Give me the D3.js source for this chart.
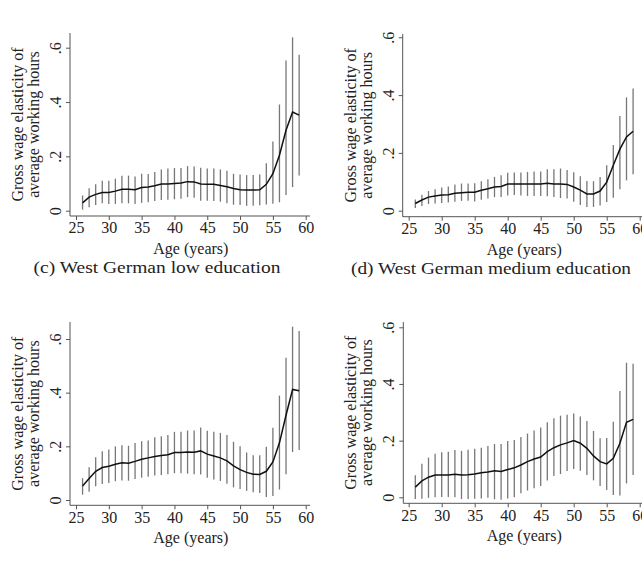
<!DOCTYPE html>
<html>
<head>
<meta charset="utf-8">
<script src="https://cdn.jsdelivr.net/npm/d3@7"></script>
<style>
body { margin: 0; background: #fff; }
svg { display: block; }
text { font-family: "Liberation Serif", "Times New Roman", serif; fill: #222; }
</style>
</head>
<body>
<svg width="642" height="568"></svg>
<script>
// ages on the x axis
var ages = [26,27,28,29,30,31,32,33,34,35,36,37,38,39,40,41,42,43,44,45,46,47,48,49,50,51,52,53,54,55,56,57,58,59];

// (c) West German low education
var lowEst = [.029,.050,.060,.067,.067,.072,.079,.079,.077,.085,.087,.092,.098,.098,.100,.102,.107,.106,.098,.097,.097,.093,.088,.082,.077,.076,.076,.077,.097,.136,.204,.296,.363,.352];
var lowHi  = [.056,.083,.097,.110,.110,.118,.129,.129,.126,.136,.135,.142,.152,.155,.157,.157,.164,.163,.158,.155,.155,.152,.147,.136,.133,.131,.131,.133,.175,.255,.391,.553,.638,.574];
var lowLo  = [.004,.013,.021,.027,.025,.025,.027,.027,.025,.029,.031,.036,.039,.040,.042,.044,.050,.048,.037,.037,.036,.033,.027,.022,.021,.018,.018,.020,.023,.026,.031,.058,.087,.130];

// (d) West German medium education
var medEst = [.025,.037,.047,.051,.054,.055,.060,.062,.064,.064,.071,.076,.082,.084,.092,.092,.092,.092,.092,.092,.095,.092,.092,.091,.082,.071,.058,.058,.068,.099,.157,.213,.255,.275];
var medHi  = [.039,.055,.068,.074,.080,.084,.091,.094,.094,.095,.102,.109,.117,.123,.131,.132,.132,.134,.136,.136,.143,.143,.146,.141,.133,.119,.103,.102,.117,.157,.227,.328,.392,.423];
var medLo  = [.009,.016,.023,.025,.027,.028,.031,.034,.034,.032,.038,.042,.047,.047,.053,.054,.053,.051,.051,.051,.050,.047,.044,.042,.031,.020,.013,.013,.018,.030,.045,.074,.105,.126];

// bottom left panel
var p3Est = [.052,.080,.107,.121,.126,.133,.139,.137,.144,.152,.157,.162,.166,.169,.177,.177,.179,.178,.183,.171,.164,.157,.146,.127,.113,.103,.096,.095,.107,.142,.213,.316,.412,.407];
var p3Hi  = [.081,.122,.159,.182,.188,.200,.204,.202,.212,.219,.222,.234,.238,.242,.254,.254,.259,.259,.270,.258,.254,.250,.242,.217,.200,.177,.167,.167,.198,.269,.389,.530,.646,.630];
var p3Lo  = [.020,.031,.051,.060,.063,.070,.073,.072,.078,.083,.087,.091,.093,.096,.100,.100,.098,.096,.095,.083,.076,.071,.061,.047,.041,.034,.029,.026,.011,.015,.039,.096,.179,.186];

// bottom right panel
var p4Est = [.036,.058,.071,.079,.079,.079,.081,.079,.080,.082,.087,.089,.094,.091,.098,.104,.114,.126,.135,.142,.161,.175,.185,.192,.200,.191,.173,.146,.126,.118,.138,.191,.265,.275];
var p4Hi  = [.078,.118,.140,.154,.159,.161,.167,.164,.168,.171,.175,.181,.188,.188,.199,.202,.213,.225,.236,.246,.265,.279,.288,.291,.296,.285,.269,.234,.208,.209,.267,.375,.475,.471];
var p4Lo  = [-.006,-.005,-.002,.000,.001,.001,.000,-.006,-.006,-.005,-.004,-.002,-.007,-.009,-.004,.000,.014,.024,.032,.040,.059,.075,.082,.093,.100,.094,.079,.060,.040,.026,.008,.006,.049,.079];

var xTicks = [25,30,35,40,45,50,55,60];
var yTicks = [0,.2,.4,.6];

var svg = d3.select("svg");

// where each panel sits on the page
var panels = [
  {est: lowEst, lo: lowLo, hi: lowHi, left: 70, top: 33, right: 310, bottom: 216,
   xr: [76, 305.7], yr: [210.7, 47.7], caption: "(c) West German low education", capW: 247, capX: 157},
  {est: medEst, lo: medLo, hi: medHi, left: 402.7, top: 34, right: 642, bottom: 216.7,
   xr: [408.7, 639.7], yr: [210.7, 37.3], caption: "(d) West German medium education", capW: 280, capX: 491},
  {est: p3Est, lo: p3Lo, hi: p3Hi, left: 70, top: 322, right: 310, bottom: 505.3,
   xr: [76, 305.7], yr: [500, 339], caption: null},
  {est: p4Est, lo: p4Lo, hi: p4Hi, left: 403.3, top: 322, right: 642, bottom: 503.3,
   xr: [408.7, 639.7], yr: [497.3, 327.3], caption: null}
];

function fmtY(d) {
  return d === 0 ? "0" : d3.format(".1f")(d).replace(/^0/, "");
}

panels.forEach(function(p) {
  var x = d3.scaleLinear().domain([25, 60]).range(p.xr);
  var y = d3.scaleLinear().domain([0, .6]).range(p.yr);
  var g = svg.append("g");

  // axis lines
  g.append("line").attr("x1", p.left).attr("x2", p.right)
    .attr("y1", p.bottom).attr("y2", p.bottom)
    .attr("stroke", "#555").attr("stroke-width", 1);
  g.append("line").attr("x1", p.left).attr("x2", p.left)
    .attr("y1", p.top).attr("y2", p.bottom)
    .attr("stroke", "#555").attr("stroke-width", 1);

  var xa = g.append("g")
    .attr("transform", "translate(0," + p.bottom + ")")
    .call(d3.axisBottom(x).tickValues(xTicks).tickSize(4).tickPadding(2));
  xa.select(".domain").remove();
  xa.selectAll("line").attr("stroke", "#555");
  xa.selectAll("text").style("font-size", "16px").attr("fill", "#222");

  var ya = g.append("g")
    .attr("transform", "translate(" + p.left + ",0)")
    .call(d3.axisLeft(y).tickValues(yTicks).tickSize(4).tickFormat(fmtY));
  ya.select(".domain").remove();
  ya.selectAll("line").attr("stroke", "#555");
  ya.selectAll("text")
    .style("font-size", "16px").attr("fill", "#222")
    .attr("transform", "rotate(-90)")
    .attr("x", 0).attr("y", -9).attr("dy", 0)
    .style("text-anchor", "middle");

  // axis titles
  var cx = (p.xr[0] + p.xr[1]) / 2;
  g.append("text").attr("x", cx).attr("y", p.bottom + 38)
    .attr("text-anchor", "middle").style("font-size", "16px")
    .text("Age (years)");

  var cy = (p.top + p.bottom) / 2;
  var tx = p.left - 47;
  g.append("text")
    .attr("transform", "translate(" + tx + "," + cy + ") rotate(-90)")
    .attr("text-anchor", "middle").style("font-size", "16px")
    .text("Gross wage elasticity of");
  g.append("text")
    .attr("transform", "translate(" + (tx + 16) + "," + cy + ") rotate(-90)")
    .attr("text-anchor", "middle").style("font-size", "16px")
    .text("average working hours");

  // confidence bars
  g.selectAll(".ci").data(ages).enter().append("line")
    .attr("x1", function(d) { return x(d); })
    .attr("x2", function(d) { return x(d); })
    .attr("y1", function(d, i) { return y(p.lo[i]); })
    .attr("y2", function(d, i) { return y(p.hi[i]); })
    .attr("stroke", "#777").attr("stroke-width", 1.3);

  // point estimates
  var line = d3.line()
    .x(function(d) { return x(d); })
    .y(function(d, i) { return y(p.est[i]); });
  g.append("path").datum(ages)
    .attr("d", line)
    .attr("fill", "none").attr("stroke", "#111").attr("stroke-width", 1.5);

  if (p.caption) {
    g.append("text").attr("x", p.capX).attr("y", p.bottom + 57)
      .attr("text-anchor", "middle").style("font-size", "16.5px")
      .attr("textLength", p.capW).attr("lengthAdjust", "spacingAndGlyphs")
      .text(p.caption);
  }
});
</script>
</body>
</html>
